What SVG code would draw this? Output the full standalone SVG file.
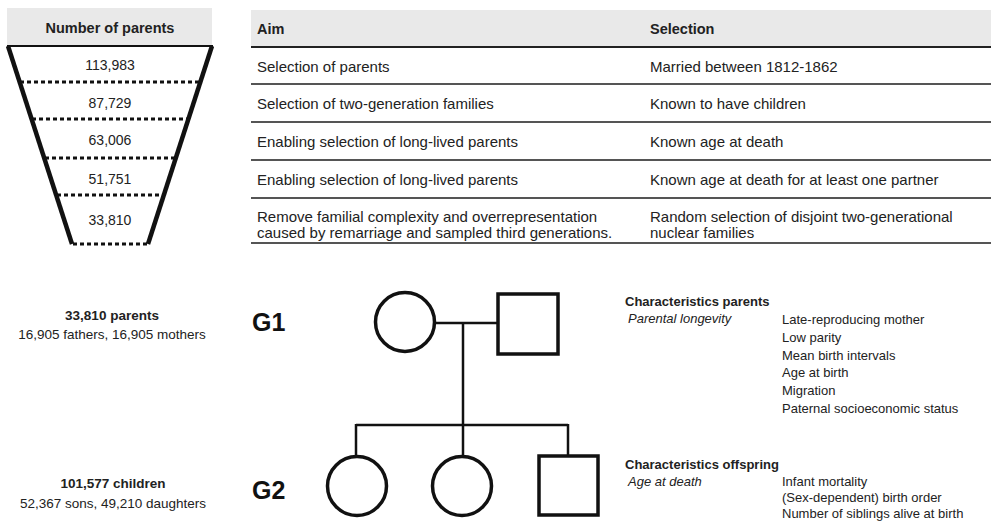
<svg xmlns="http://www.w3.org/2000/svg" width="991" height="522" viewBox="0 0 991 522">
<style>
text{font-family:"Liberation Sans",Arial,sans-serif;fill:#222}
.hdr{font-weight:bold;font-size:14.5px}
.cell{font-size:15px}
.num{font-size:14px;text-anchor:middle}
.dot{stroke:#111;stroke-width:3;stroke-dasharray:4 3}
.edge{stroke:#111;stroke-width:4.5;fill:none}
.rule{stroke:#555;stroke-width:2}
.sm{font-size:13.5px}
.gen{font-size:25px;font-weight:bold;fill:#111}
.ch{font-size:13px}
.p{fill:none;stroke:#111;stroke-width:3.5}
.ln{stroke:#111;stroke-width:2.5;fill:none}
</style>
<rect width="991" height="522" fill="#fff"/>
<g id="funnel">
<rect x="7" y="8" width="205" height="38" fill="#e9e9e9"/>
<text class="hdr" x="110" y="33" text-anchor="middle">Number of parents</text>
<line x1="7" y1="46" x2="213" y2="46" stroke="#111" stroke-width="2"/>
<line class="edge" x1="8" y1="46" x2="72" y2="244"/>
<line class="edge" x1="212" y1="46" x2="148" y2="244"/>
<line class="dot" x1="20" y1="82" x2="200" y2="82"/>
<line class="dot" x1="32" y1="119" x2="188" y2="119"/>
<line class="dot" x1="45" y1="158" x2="175" y2="158"/>
<line class="dot" x1="57" y1="195" x2="163" y2="195"/>
<line class="dot" x1="73" y1="244" x2="147" y2="244"/>
<text class="num" x="110" y="70">113,983</text>
<text class="num" x="110" y="108">87,729</text>
<text class="num" x="110" y="145">63,006</text>
<text class="num" x="110" y="184">51,751</text>
<text class="num" x="110" y="225">33,810</text>
</g>
<g id="table">
<rect x="251" y="10" width="740" height="37" fill="#e9e9e9"/>
<text class="hdr" x="257" y="34">Aim</text>
<text class="hdr" x="650" y="34">Selection</text>
<line x1="251" y1="47" x2="991" y2="47" stroke="#222" stroke-width="2"/>
<line class="rule" x1="251" y1="84" x2="991" y2="84"/>
<line class="rule" x1="251" y1="122" x2="991" y2="122"/>
<line class="rule" x1="251" y1="160" x2="991" y2="160"/>
<line class="rule" x1="251" y1="198" x2="991" y2="198"/>
<line class="rule" x1="251" y1="243" x2="991" y2="243"/>
<text class="cell" x="257" y="72">Selection of parents</text>
<text class="cell" x="650" y="72">Married between 1812-1862</text>
<text class="cell" x="257" y="109">Selection of two-generation families</text>
<text class="cell" x="650" y="109">Known to have children</text>
<text class="cell" x="257" y="147">Enabling selection of long-lived parents</text>
<text class="cell" x="650" y="147">Known age at death</text>
<text class="cell" x="257" y="185">Enabling selection of long-lived parents</text>
<text class="cell" x="650" y="185">Known age at death for at least one partner</text>
<text class="cell" x="257" y="222">Remove familial complexity and overrepresentation</text>
<text class="cell" x="257" y="238">caused by remarriage and sampled third generations.</text>
<text class="cell" x="650" y="222">Random selection of disjoint two-generational</text>
<text class="cell" x="650" y="238">nuclear families</text>
</g>
<g id="counts">
<text class="sm" x="112" y="320" text-anchor="middle" font-weight="bold">33,810 parents</text>
<text class="sm" x="112" y="339" text-anchor="middle">16,905 fathers, 16,905 mothers</text>
<text class="sm" x="113" y="488" text-anchor="middle" font-weight="bold">101,577 children</text>
<text class="sm" x="113" y="508" text-anchor="middle">52,367 sons, 49,210 daughters</text>
<text class="gen" x="252" y="331">G1</text>
<text class="gen" x="252" y="499">G2</text>
</g>
<g id="connectors">
<line class="ln" x1="435" y1="323" x2="497" y2="323"/>
<line class="ln" x1="463" y1="323" x2="463" y2="455"/>
<line class="ln" x1="356" y1="425" x2="568" y2="425"/>
<line class="ln" x1="356" y1="424" x2="356" y2="456"/>
<line class="ln" x1="568" y1="424" x2="568" y2="456"/>
</g>
<g id="mother"><circle class="p" cx="405" cy="322" r="29.5"/></g>
<g id="father"><rect class="p" x="498" y="294" width="60" height="60" stroke-width="4"/></g>
<g id="daughter1"><circle class="p" cx="357" cy="486" r="29.5"/></g>
<g id="daughter2"><circle class="p" cx="462" cy="486" r="29.5"/></g>
<g id="son"><rect class="p" x="539" y="456" width="59" height="59" stroke-width="4"/></g>
<g id="characteristics">
<text class="ch" x="625" y="306" font-weight="bold">Characteristics parents</text>
<text class="ch" x="628" y="323" font-style="italic">Parental longevity</text>
<text class="ch" x="782" y="324">Late-reproducing mother</text>
<text class="ch" x="782" y="342">Low parity</text>
<text class="ch" x="782" y="360">Mean birth intervals</text>
<text class="ch" x="782" y="377">Age at birth</text>
<text class="ch" x="782" y="395">Migration</text>
<text class="ch" x="782" y="413">Paternal socioeconomic status</text>
<text class="ch" x="625" y="469" font-weight="bold">Characteristics offspring</text>
<text class="ch" x="628" y="486" font-style="italic">Age at death</text>
<text class="ch" x="782" y="486">Infant mortality</text>
<text class="ch" x="782" y="502">(Sex-dependent) birth order</text>
<text class="ch" x="782" y="518">Number of siblings alive at birth</text>
</g>
</svg>
